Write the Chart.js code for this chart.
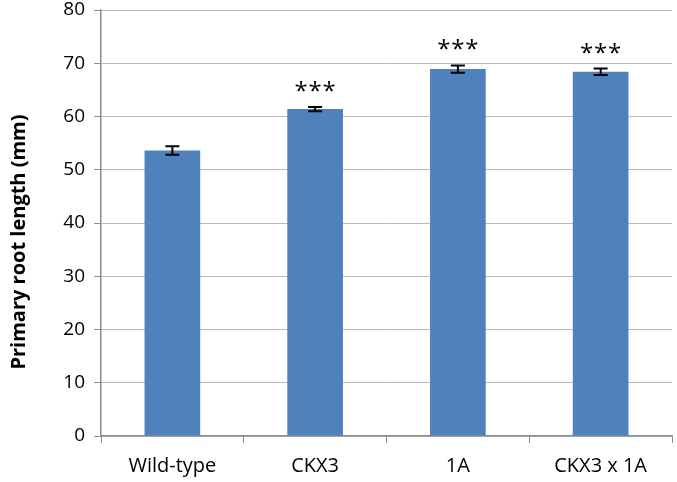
<!DOCTYPE html>
<html>
<head>
<meta charset="utf-8">
<script src="https://cdn.jsdelivr.net/npm/chart.js@4/dist/chart.umd.min.js"></script>
<style>
  html, body { margin: 0; padding: 0; background: #fff; }
  #wrap { width: 677px; height: 482px; }
</style>
</head>
<body>
<div id="wrap"><canvas id="chart"></canvas></div>
<script>
const categories = ["Wild-type", "CKX3", "1A", "CKX3 x 1A"];
const rootLength = [53.6, 61.4, 68.9, 68.4];
const rootLengthErr = [0.8, 0.4, 0.7, 0.6];
const signif = ["", "***", "***", "***"];
const yTitle = "Primary root length (mm)";

const FONT = "'Open Sans', 'Liberation Sans', sans-serif";

// error bars + significance stars drawn on top of the bars
const errorBars = {
  id: "errorBars",
  afterDatasetsDraw(chart) {
    const ctx = chart.ctx;
    const y = chart.scales.y;
    const meta = chart.getDatasetMeta(0);
    meta.data.forEach((bar, i) => {
      const top = y.getPixelForValue(rootLength[i] + rootLengthErr[i]);
      const bottom = y.getPixelForValue(rootLength[i] - rootLengthErr[i]);
      ctx.save();
      ctx.strokeStyle = "#000";
      ctx.lineWidth = 2;
      ctx.beginPath();
      ctx.moveTo(bar.x, top);
      ctx.lineTo(bar.x, bottom);
      ctx.moveTo(bar.x - 7, top);
      ctx.lineTo(bar.x + 7, top);
      ctx.moveTo(bar.x - 7, bottom);
      ctx.lineTo(bar.x + 7, bottom);
      ctx.stroke();
      if (signif[i]) {
        ctx.fillStyle = "#000";
        ctx.font = "24px " + FONT;
        ctx.textAlign = "center";
        ctx.textBaseline = "alphabetic";
        const stars = signif[i].split("");
        const gap = 14;
        stars.forEach((s, k) => {
          ctx.fillText(s, bar.x + (k - (stars.length - 1) / 2) * gap, top - 8);
        });
      }
      ctx.restore();
    });
  },
};

// y axis title, sits a bit below the middle like the original
const axisTitle = {
  id: "axisTitle",
  afterDraw(chart) {
    const ctx = chart.ctx;
    const area = chart.chartArea;
    ctx.save();
    ctx.translate(19, (area.top + area.bottom) / 2 + 19);
    ctx.rotate(-Math.PI / 2);
    ctx.fillStyle = "#000";
    ctx.font = "bold 20px " + FONT;
    ctx.textAlign = "center";
    ctx.textBaseline = "middle";
    ctx.fillText(yTitle, 0, 0);
    ctx.restore();
  },
};

const ctx = document.getElementById("chart").getContext("2d");
new Chart(ctx, {
  type: "bar",
  data: {
    labels: categories,
    datasets: [
      {
        data: rootLength,
        backgroundColor: "#4f81bd",
        borderWidth: 0,
        categoryPercentage: 1,
        barPercentage: 0.39,
      },
    ],
  },
  options: {
    responsive: true,
    maintainAspectRatio: false,
    animation: false,
    layout: {
      padding: { top: 10, right: 5, bottom: 0, left: 8 },
    },
    plugins: {
      legend: { display: false },
      tooltip: { enabled: false },
    },
    scales: {
      y: {
        min: 0,
        max: 80,
        afterFit(scale) {
          scale.width = 93;
          scale.paddingTop = 0;
          scale.paddingBottom = 0;
        },
        ticks: {
          stepSize: 10,
          color: "#000",
          padding: 9,
          font: { size: 19, family: FONT },
        },
        grid: {
          color: "#b8b8b8",
          lineWidth: 1,
          tickLength: 7,
          tickColor: "#8c8c8c",
        },
        border: { color: "#8c8c8c", width: 1.5 },
      },
      x: {
        afterFit(scale) {
          scale.height = 46;
        },
        ticks: {
          color: "#000",
          padding: 11,
          font: { size: 20, family: FONT },
        },
        grid: {
          drawOnChartArea: false,
          tickLength: 7,
          tickColor: "#8c8c8c",
        },
        border: { color: "#8c8c8c", width: 1.5 },
      },
    },
  },
  plugins: [errorBars, axisTitle],
});
</script>
</body>
</html>
